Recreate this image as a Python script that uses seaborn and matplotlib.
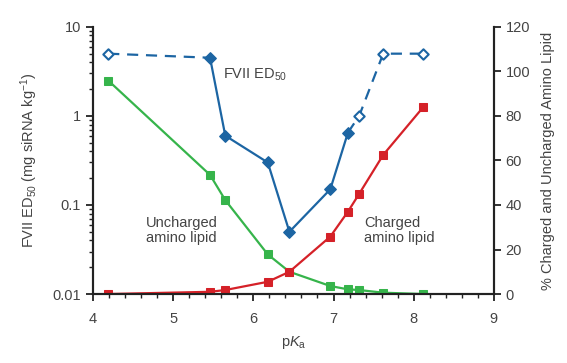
#-----------------------------------------------------------------
# Required Python Packages
#-----------------------------------------------------------------
import matplotlib
matplotlib.use("Agg")
import pandas as pd
import matplotlib.pyplot as plt
import matplotlib.ticker as mticker
import seaborn as sns

#-----------------------------------------------------------------
# Data
#-----------------------------------------------------------------
pka = [4.19, 5.46, 5.65, 6.18, 6.45, 6.96, 7.18, 7.32, 7.62, 8.12]

# FVII ED50 (mg siRNA / kg), log axis
ed50 = [5.0, 4.5, 0.60, 0.30, 0.050, 0.150, 0.65, 1.0, 5.0, 5.0]
ed50_measured = [False, True, True, True, True, True, True, False, False, False]

# % amino lipid, right axis
uncharged = [95.9, 53.5, 42.2, 17.8, 10.0, 3.6, 2.1, 1.8, 0.6, 0.0]
charged = [0.0, 1.0, 1.8, 5.5, 10.0, 25.8, 37.0, 45.0, 62.5, 84.0]

BLUE = "#1c65a3"
GREEN = "#36b44b"
RED = "#d52128"
TEXT = "#444444"

#-----------------------------------------------------------------
# Style
#-----------------------------------------------------------------
sns.set_style("ticks")
plt.rcParams["font.family"] = ["Liberation Sans", "DejaVu Sans"]
plt.rcParams["mathtext.fontset"] = "custom"
plt.rcParams["mathtext.rm"] = "Liberation Sans"
plt.rcParams["mathtext.it"] = "Liberation Sans:italic"
plt.rcParams["font.size"] = 10
plt.rcParams["text.color"] = TEXT
plt.rcParams["axes.labelcolor"] = TEXT
plt.rcParams["xtick.labelcolor"] = TEXT
plt.rcParams["ytick.labelcolor"] = TEXT
plt.rcParams["xtick.color"] = "#222222"
plt.rcParams["ytick.color"] = "#222222"

df = pd.DataFrame({"pka": pka, "ed50": ed50, "measured": ed50_measured,
                   "uncharged": uncharged, "charged": charged})

fig = plt.figure(figsize=(5.67, 3.63), dpi=100)
ax = fig.add_axes([0.164, 0.19, 0.707, 0.736])
ax2 = ax.twinx()

# --- FVII ED50 curve: solid where measured, dashed to the open points
solid = df.iloc[1:7]
dash_left = df.iloc[0:2]
dash_right = df.iloc[6:10]
for part, ls in [(solid, "-"), (dash_left, "--"), (dash_right, "--")]:
    sns.lineplot(data=part, x="pka", y="ed50", ax=ax, color=BLUE, lw=1.6,
                 linestyle=ls, sort=False, estimator=None, zorder=3)
    if ls == "--":
        ax.lines[-1].set_dashes([5, 3.5])

filled = df[df["measured"]]
hollow = df[~df["measured"]]
sns.scatterplot(data=filled, x="pka", y="ed50", ax=ax, marker="D", s=34,
                color=BLUE, edgecolor=BLUE, linewidth=1, zorder=4)
sns.scatterplot(data=hollow, x="pka", y="ed50", ax=ax, marker="D", s=28,
                facecolor="white", edgecolor=BLUE, linewidth=1.5, zorder=4)

# --- percent curves on the right axis
sns.lineplot(data=df, x="pka", y="uncharged", ax=ax2, color=GREEN, lw=1.6,
             marker="s", markersize=5.8, markeredgecolor=GREEN, sort=False,
             estimator=None)
sns.lineplot(data=df, x="pka", y="charged", ax=ax2, color=RED, lw=1.6,
             marker="s", markersize=5.8, markeredgecolor=RED, sort=False,
             estimator=None)

# --- axes setup
ax.set_yscale("log")
ax.set_xlim(4, 9)
ax.set_ylim(0.01, 10)
ax2.set_ylim(0, 120)
ax.set_yticks([0.01, 0.1, 1, 10])
ax.yaxis.set_major_formatter(mticker.FixedFormatter(["0.01", "0.1", "1", "10"]))
ax.yaxis.set_minor_locator(mticker.LogLocator(base=10, subs=range(2, 10)))
ax.yaxis.set_minor_formatter(mticker.NullFormatter())
ax.set_xticks([4, 5, 6, 7, 8, 9])
ax.xaxis.set_minor_locator(mticker.MultipleLocator(0.2))
ax2.set_yticks([0, 20, 40, 60, 80, 100, 120])

ax.set_xlabel("p$K_\\mathrm{a}$", fontsize=10.5, labelpad=6)
ax.set_ylabel("FVII ED$_{50}$ (mg siRNA kg$^{-1}$)", fontsize=10.5, labelpad=9)
ax2.set_ylabel("% Charged and Uncharged Amino Lipid", fontsize=10.5,
               labelpad=8)

for a in (ax, ax2):
    a.spines["top"].set_visible(False)
    for s in ("left", "right", "bottom"):
        a.spines[s].set_linewidth(1.5)
        a.spines[s].set_color("#222222")
    a.tick_params(which="major", length=5, width=1.3, labelsize=10.5,
                  direction="out")
    a.tick_params(which="minor", length=3, width=1.0, direction="out")
ax.tick_params(axis="x", which="major", pad=8)
ax2.set_xlabel("")

# --- annotations
ax.text(5.62, 2.9, "FVII ED$_{50}$", fontsize=10.5, ha="left", va="center",
        color=TEXT)
ax2.text(4.66, 28.5, "Uncharged\namino lipid", fontsize=10.5, ha="left",
         va="center", color=TEXT, linespacing=1.15)
ax2.text(7.38, 28.5, "Charged\namino lipid", fontsize=10.5, ha="left",
         va="center", color=TEXT, linespacing=1.15)

fig.savefig("out.png", dpi=100)
